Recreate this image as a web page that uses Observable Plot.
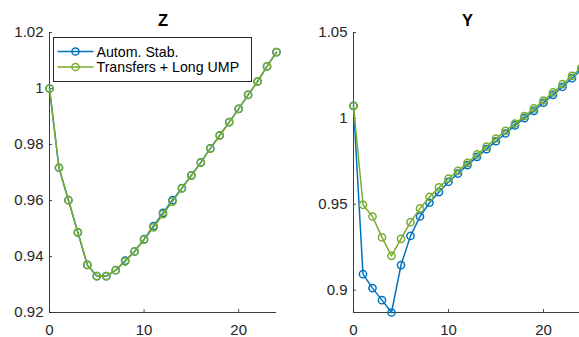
<!DOCTYPE html>
<html>
<head>
<meta charset="utf-8">
<script src="https://cdn.jsdelivr.net/npm/d3@7"></script>
<script src="https://cdn.jsdelivr.net/npm/@observablehq/plot@0.6"></script>
<style>
  html, body { margin: 0; padding: 0; background: #fff; overflow: hidden; }
  #wrap { position: relative; width: 579px; height: 337px; overflow: hidden; font-family: "Liberation Sans", Arial, Helvetica, sans-serif; }
</style>
</head>
<body>
<div id="wrap"></div>
<script>
// ---- data ----
const periods = d3.range(0, 25);
const seriesNames = ["Autom. Stab.", "Transfers + Long UMP"];
const seriesColors = ["#0072BD", "#77AC30"];

const zAutom = [1.0000, 0.9717, 0.9601, 0.9486, 0.9370, 0.9330, 0.9330, 0.9351, 0.9385, 0.9418,
                0.9462, 0.9509, 0.9556, 0.9601, 0.9644, 0.9690, 0.9736, 0.9786, 0.9833, 0.9880,
                0.9927, 0.9977, 1.0025, 1.0079, 1.0130];
const zTransfers = [1.0000, 0.9717, 0.9601, 0.9486, 0.9370, 0.9330, 0.9330, 0.9351, 0.9382, 0.9418,
                    0.9460, 0.9504, 0.9551, 0.9596, 0.9643, 0.9689, 0.9735, 0.9785, 0.9832, 0.9880,
                    0.9927, 0.9977, 1.0025, 1.0079, 1.0130];

const yAutom = [1.0073, 0.9093, 0.9012, 0.8942, 0.8870, 0.9146, 0.9316, 0.9429, 0.9509, 0.9571,
                0.9631, 0.9679, 0.9728, 0.9776, 0.9821, 0.9867, 0.9912, 0.9959, 1.0001, 1.0044,
                1.0091, 1.0137, 1.0184, 1.0234, 1.0283];
const yTransfers = [1.0073, 0.9497, 0.9429, 0.9307, 0.9200, 0.9299, 0.9396, 0.9476, 0.9543, 0.9598,
                    0.9650, 0.9695, 0.9741, 0.9790, 0.9836, 0.9883, 0.9928, 0.9970, 1.0013, 1.0058,
                    1.0104, 1.0151, 1.0199, 1.0248, 1.0296];

const xTicks = [0, 10, 20];
const xTickLabels = ["0", "10", "20"];
const zTicks = [0.92, 0.94, 0.96, 0.98, 1.00, 1.02];
const zTickLabels = ["0.92", "0.94", "0.96", "0.98", "1", "1.02"];
const yTicks = [0.90, 0.95, 1.00, 1.05];
const yTickLabels = ["0.9", "0.95", "1", "1.05"];

const zDomain = [0.92, 1.02];
const yDomain = [0.887, 1.05];
const xDomain = [0, 24];

// ---- drawing ----
const axisColor = "#262626";
const FONT = "Liberation Sans, Arial, Helvetica, sans-serif";

function rows(a, b) {
  return periods.flatMap((t, i) => [
    {t, v: a[i], s: seriesNames[0]},
    {t, v: b[i], s: seriesNames[1]}
  ]);
}

function panel({title, a, b, yDom, yT, yL, width, marginLeft, marginRight}) {
  const data = rows(a, b);
  const height = 337, marginTop = 32, marginBottom = 25;
  const innerW = width - marginLeft - marginRight;
  const innerH = height - marginTop - marginBottom;
  const marks = [];
  for (let k = 0; k < 2; k++) {
    const d = data.filter(r => r.s === seriesNames[k]);
    marks.push(Plot.line(d, {x: "t", y: "v", stroke: seriesColors[k], strokeWidth: 1.5}));
    marks.push(Plot.dot(d, {x: "t", y: "v", r: 3.6, stroke: seriesColors[k], strokeWidth: 1.5, fill: "none"}));
  }
  return Plot.plot({
    width, height, marginLeft, marginRight, marginTop, marginBottom,
    style: {fontFamily: FONT, fontSize: "15px", color: axisColor, background: "transparent", overflow: "visible"},
    x: {domain: xDomain},
    y: {domain: yDom},
    marks: [
      Plot.axisX({ticks: xTicks, tickFormat: d => xTickLabels[xTicks.indexOf(d)], tickSize: 0, tickPadding: 12, label: null, fill: axisColor, fontSize: 15}),
      Plot.axisY({ticks: yT, tickFormat: d => yL[yT.indexOf(d)], tickSize: 0, tickPadding: 6, label: null, fill: axisColor, fontSize: 15}),
      Plot.tickX(xTicks, {x: d => d, stroke: axisColor, strokeWidth: 0.8, insetTop: innerH - 3}),
      Plot.tickY(yT, {y: d => d, stroke: axisColor, strokeWidth: 0.8, insetRight: innerW - 3}),
      Plot.ruleX([xDomain[0]], {stroke: axisColor, strokeWidth: 0.9}),
      Plot.ruleY([yDom[0]], {stroke: axisColor, strokeWidth: 0.9}),
      ...marks,
      Plot.text([title], {frameAnchor: "top", dy: -7, lineAnchor: "bottom", fontWeight: "bold", fontSize: 16.5, fill: "#000", text: d => d})
    ]
  });
}

const wrap = document.getElementById("wrap");

const left = panel({title: "Z", a: zAutom, b: zTransfers, yDom: zDomain, yT: zTicks, yL: zTickLabels,
                    width: 290, marginLeft: 49, marginRight: 14});
left.style.position = "absolute"; left.style.left = "0px"; left.style.top = "0px";
wrap.appendChild(left);

const right = panel({title: "Y", a: yAutom, b: yTransfers, yDom: yDomain, yT: yTicks, yL: yTickLabels,
                     width: 292, marginLeft: 63, marginRight: 1});
right.style.position = "absolute"; right.style.left = "290px"; right.style.top = "0px";
wrap.appendChild(right);

// legend
const NS = "http://www.w3.org/2000/svg";
const leg = document.createElementNS(NS, "svg");
leg.setAttribute("width", 199); leg.setAttribute("height", 45);
leg.style.position = "absolute"; leg.style.left = "52.5px"; leg.style.top = "37px";
leg.style.fontFamily = FONT;
const box = document.createElementNS(NS, "rect");
box.setAttribute("x", 0.5); box.setAttribute("y", 0.5); box.setAttribute("width", 198); box.setAttribute("height", 44);
box.setAttribute("fill", "#fff"); box.setAttribute("stroke", axisColor); box.setAttribute("stroke-width", 1);
leg.appendChild(box);
seriesNames.forEach((name, k) => {
  const cy = 14.5 + 15.5 * k;
  const ln = document.createElementNS(NS, "line");
  ln.setAttribute("x1", 4.5); ln.setAttribute("x2", 40.5); ln.setAttribute("y1", cy); ln.setAttribute("y2", cy);
  ln.setAttribute("stroke", seriesColors[k]); ln.setAttribute("stroke-width", 1.5);
  leg.appendChild(ln);
  const c = document.createElementNS(NS, "circle");
  c.setAttribute("cx", 22.5); c.setAttribute("cy", cy); c.setAttribute("r", 3.6);
  c.setAttribute("fill", "none"); c.setAttribute("stroke", seriesColors[k]); c.setAttribute("stroke-width", 1.5);
  leg.appendChild(c);
  const tx = document.createElementNS(NS, "text");
  tx.setAttribute("x", 43.5); tx.setAttribute("y", cy + 5);
  tx.setAttribute("font-size", 14.2); tx.setAttribute("fill", "#000");
  tx.textContent = name;
  leg.appendChild(tx);
});
wrap.appendChild(leg);
</script>
</body>
</html>
